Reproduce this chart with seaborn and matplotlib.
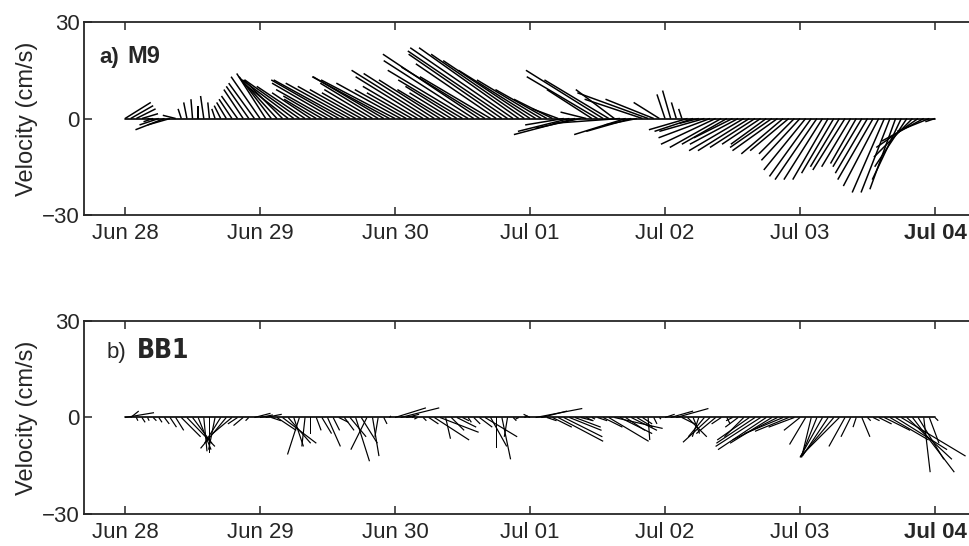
import numpy as np
import matplotlib
matplotlib.use("Agg")
import matplotlib.pyplot as plt
import seaborn as sns

# ---------------- data (hourly samples from Jun 28 00:00) ----------------
tick_labels = ["Jun 28", "Jun 29", "Jun 30", "Jul 01", "Jul 02", "Jul 03", "Jul 04"]
tick_days = [0, 1, 2, 3, 4, 5, 6]
ytick_vals = [-30, 0, 30]
ytick_labels = ["\u221230", "0", "30"]

m9_u = [8, 7, 6, 5, 2, -3, -6, -9, -7, -4, -1, -1, -0.5, 0, -1, -0.5, -1, -2, -3, -4,
        -5, -6, -7, -8, -9, -9, -10, -11, -12, -14, -16, -17, -15, -12, -10, -12, -16, -19, -21, -22,
        -20, -18, -16, -14, -15, -18, -22, -24, -23, -20, -16, -14, -17, -21, -24, -22, -19, -15, -13, -16,
        -20, -25, -28, -30, -26, -22, -25, -29, -31, -32, -31, -29, -27, -24, -20, -16, -12, -8, -12, -16,
        -19, -14, -8, -14, -22, -24, -20, -12, -21, -16, -14, -10, -18, -22, -15, -8, -2.5, -2.5, -1.5, -1,
        -12, -12, -6, -14, -16, -17, -16, -14, -12, -15, -17, -16, -14, -12, -11, -13, -14, -13, -12, -11,
        -12, -13, -13, -13, -12, -11, -10, -9, -10, -9, -8, -9, -10, -11, -11, -10, -9, -8, -9, -10,
        -12, -13, -13, -10, -3]
m9_v = [5, 4, 3, 1.5, -0.5, -1, -2, -3.5, -2, 1, 3, 5, 6, 4, 7, 5, 3, 4, 5, 6,
        7, 9, 10, 11, 13, 14, 13, 12, 12, 11, 12, 12, 10, 8, 6, 7, 9, 11, 12, 12,
        11, 10, 9, 8, 9, 11, 13, 13, 12, 11, 9, 8, 10, 13, 15, 14, 12, 9, 8, 10,
        12, 15, 18, 20, 16, 13, 17, 20, 21, 22, 22, 20, 18, 15, 12, 9, 6, 3, -2, -4,
        -5, -3, 2, 9, 13, 15, 12, 9, -1.5, -5, -4, -2, 6, 8, 6, 5, 7.5, 8.7, 5, 3,
        -3.5, -4, -1.5, -4, -6, -8, -9, -8, -6, -8, -10, -10, -9, -8, -8, -9, -10, -11, -10, -11,
        -13, -16, -18, -19, -19, -19, -17, -15, -16, -15, -14, -15, -17, -19, -21, -23, -23, -22, -19, -15,
        -12, -9, -7, -4, -1]

bb1_u = [9, 2.5, 0.5, 1, 0.5, 1, 1, 1.5, 2, 2.5, 6, 8.7, 6, 4, 1, 0, -2, -5, -8, -6,
         -3, -3, -1, 5, 4, 5, 3, 6, 10.5, 7, 3, -3.7, -1, 0, 1.5, 3, 4, 2, 3, 3,
         5, 4.3, 5, -5, 2, -1, 1, 0.5, 9.6, 12, 4, 1, -1, 1, 3, 10.8, 12, 1.5, 4, 6,
         2, 1, 2, 4, 10, 5, 0, 2.7, -1, 1, -1, 1, -2, 14.5, 8, 3, 6, 14, 12, 10,
         8, 4, 2, 1, 3, 6, 12.4, 15, 10, 6, 8, 5, 3, 0.5, 1, 0.5, 3, 7, 10, 4,
         6, 2, -2, -5, -8.4, -6, -3, 1, -2, -4, -6, -10, -12, -14, -15, -13, -14, -12, -10.5, -8,
         -5, -5, -3, -5, -7, -8, -10, -12, -5, -3, -1, 2.5, 1, 2, 4, 8, 12, 16, 20, 14,
         13, 8, 2, 3, 1]
bb1_v = [1.5, 2, -1, -1.5, -1, -1, -1.5, -2, -3, -4, -6, -9, -8, -10, -10.5, -11, -10, -8, -9.6, -5,
         -2, -2.5, -1, 1.3, 0.8, 1, -1, -4, -8, -8, -9, -11.5, -9, -5, -4, -5, -9, -4, -1.5, -4,
         -6, -13.6, -8, -10, -12, -6, -2, 0.5, 3, 3, 1, 0.5, -0.5, -1, -2, -7, -4.6, -6.6, -4, -3,
         -1, -1.5, -2, -3, -6, -9, -9.6, -13, -6, -1, -0.5, 0.5, 1, 2.8, 2, -1, -3, -7.4, -6, -4,
         -3, -1, -1, -0.5, -1, -3, -7.4, -3.4, -5, -4, -4, -3, -2, -7, -2, -0.5, 1, 2, 2.8, -2,
         -6, -5, -6, -6, -7.7, -5, -2, -2, -1, -3, -6, -7, -8, -9, -10, -8, -7, -5, -4.3, -3,
         -4, -8.4, -12.4, -12.4, -12.4, -12, -12, -12, -9, -6, -3, -6, -1, -1, -2, -4, -7, -10, -12, -13,
         -17, -13, -17, -8, -1]

series = [("M9", m9_u, m9_v, "a)", 1.5), ("BB1", bb1_u, bb1_v, "b)", 1.2)]

# ---------------- style ----------------
sns.set_style("ticks")
plt.rcParams["font.family"] = ["Liberation Sans", "DejaVu Sans"]
plt.rcParams["axes.linewidth"] = 1.3

fig = plt.figure(figsize=(9.69, 5.46), dpi=100)
axes_pos = [[0.0867, 0.6062, 0.9133, 0.3535], [0.0867, 0.0586, 0.9133, 0.3535]]

for (name, u, v, tag, lw), pos in zip(series, axes_pos):
    ax = fig.add_axes(pos)
    u = np.asarray(u, float)
    v = np.asarray(v, float)
    t = np.arange(len(u)) / 24.0
    sns.lineplot(x=[t[0], t[-1]], y=[0, 0], ax=ax, color="black", lw=1.2)
    ax.quiver(t, np.zeros_like(t), u, v, angles="uv", scale_units="y", scale=1,
              units="dots", width=lw, headwidth=0, headlength=0, headaxislength=0,
              minlength=0, pivot="tail", color="black")
    ax.set_xlim(-0.304, 6.252)
    ax.set_ylim(-30, 30)
    ax.set_xticks(tick_days)
    ax.set_xticklabels(tick_labels, fontsize=16)
    ax.get_xticklabels()[-1].set_fontweight("bold")
    ax.set_yticks(ytick_vals)
    ax.set_yticklabels(ytick_labels, fontsize=16)
    ax.set_ylabel("Velocity (cm/s)", fontsize=17, labelpad=3)
    ax.tick_params(axis="x", direction="in", top=True, length=6, width=1.1, pad=6)
    ax.tick_params(axis="y", direction="in", length=6, width=1.1, pad=3)
    ax.spines["right"].set_visible(False)
    if tag == "a)":
        ax.text(0.017, 0.79, "a)", transform=ax.transAxes, fontsize=16, fontweight="bold", va="baseline")
        ax.text(0.049, 0.79, "M9", transform=ax.transAxes, fontsize=17, fontweight="bold", va="baseline")
    else:
        ax.text(0.025, 0.81, "b)", transform=ax.transAxes, fontsize=16, va="baseline")
        ax.text(0.060, 0.81, "BB1", transform=ax.transAxes, fontsize=19, fontweight="heavy",
                va="baseline", family=["DejaVu Sans"], fontstretch="condensed")

fig.savefig("out.png", dpi=100)
